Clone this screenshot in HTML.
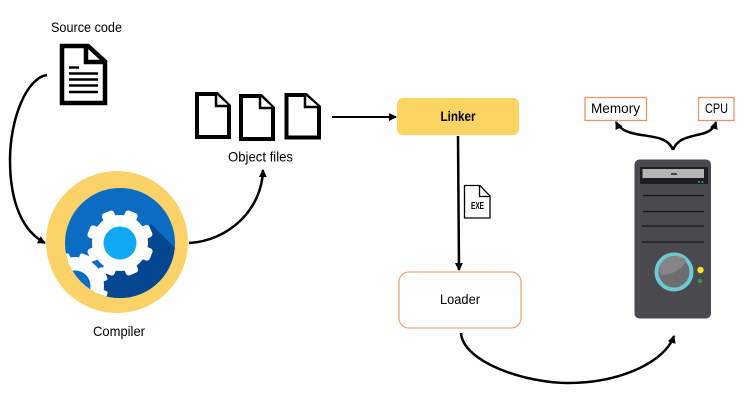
<!DOCTYPE html>
<html>
<head>
<meta charset="utf-8">
<style>
html,body{margin:0;padding:0;background:#fff}
svg{display:block}
text{font-family:"Liberation Sans",sans-serif;fill:#000;text-anchor:middle}
</style>
</head>
<body>
<svg width="745" height="402" viewBox="0 0 745 402" xmlns="http://www.w3.org/2000/svg">
<defs>
<clipPath id="c"><circle cx="120" cy="243" r="55"/></clipPath>
<marker id="a" markerWidth="10" markerHeight="10" refX="7" refY="4" orient="auto" markerUnits="userSpaceOnUse"><path d="M0,0 L8,4 L0,8 Z" fill="#000"/></marker>
</defs>

<!-- Source code -->
<text x="86.500" y="32" font-size="14" textLength="71" lengthAdjust="spacingAndGlyphs">Source code</text>
<path d="M62,46 H88 L105,61.500 V103 H62 Z" fill="#fff" stroke="#000" stroke-width="4.500"/>
<path d="M86,46 V62 H105" fill="none" stroke="#000" stroke-width="4.500"/>
<path d="M69,67.500 H79 M69,73.500 H98 M69,79.500 H98 M69,85.500 H98 M69,92 H98" stroke="#000" stroke-width="2.500"/>

<!-- Arrow source -> compiler -->
<path d="M47,75 C26,78 10,120 10,160 C10,205 24,232 45,243" fill="none" stroke="#000" stroke-width="2.500" marker-end="url(#a)"/>

<!-- Compiler -->
<circle cx="117" cy="242" r="71" fill="#FBD267"/>
<circle cx="120" cy="243" r="55" fill="#0B6CC4"/>
<g clip-path="url(#c)">
<path d="M151,224 L178,251 V300 H98 L103,270 Z" fill="#04468F"/>
<g fill="#fff" transform="translate(75 286)">
<circle r="29"/>
<rect x="-7" y="-33" width="14" height="66" rx="2" transform="rotate(22)"/>
<rect x="-7" y="-33" width="14" height="66" rx="2" transform="rotate(67)"/>
<rect x="-7" y="-33" width="14" height="66" rx="2" transform="rotate(112)"/>
<rect x="-7" y="-33" width="14" height="66" rx="2" transform="rotate(157)"/>
</g>
<circle cx="75" cy="286" r="15.500" fill="#0B6CC4"/>
</g>
<g fill="#fff" transform="translate(120 243)">
<circle r="28"/>
<rect x="-6.500" y="-33.500" width="13" height="67" rx="3" transform="rotate(22)"/>
<rect x="-6.500" y="-33.500" width="13" height="67" rx="3" transform="rotate(67)"/>
<rect x="-6.500" y="-33.500" width="13" height="67" rx="3" transform="rotate(112)"/>
<rect x="-6.500" y="-33.500" width="13" height="67" rx="3" transform="rotate(157)"/>
</g>
<circle cx="120" cy="243" r="16.500" fill="#0EA9F2"/>
<text x="119" y="336" font-size="14" textLength="52" lengthAdjust="spacingAndGlyphs">Compiler</text>

<!-- Arrow compiler -> object files -->
<path d="M189,243 C228,241 262,210 263,170" fill="none" stroke="#000" stroke-width="2.500" marker-end="url(#a)"/>

<!-- Object files -->
<g fill="#fff" stroke="#000" stroke-width="4">
<path d="M197,94 H217 L229,106 V137 H197 Z"/>
<path d="M216,94 V106 H229" stroke-width="2.500"/>
<path d="M241,96 H261 L273,108 V139 H241 Z"/>
<path d="M260,96 V108 H273" stroke-width="2.500"/>
<path d="M286.500,95 H306 L319,107 V137.500 H286.500 Z"/>
<path d="M305,95 V107 H319" stroke-width="2.500"/>
</g>
<text x="260.500" y="161.500" font-size="14" textLength="65" lengthAdjust="spacingAndGlyphs">Object files</text>

<!-- Arrow -> Linker -->
<path d="M332,117 H396" fill="none" stroke="#000" stroke-width="2" marker-end="url(#a)"/>

<!-- Linker -->
<rect x="397" y="98" width="122" height="37" rx="6" fill="#FCD462"/>
<text x="458" y="121" font-size="14" font-weight="bold" textLength="35" lengthAdjust="spacingAndGlyphs">Linker</text>

<!-- Linker -> Loader -->
<path d="M458,136 L459,270" fill="none" stroke="#000" stroke-width="2.500" marker-end="url(#a)"/>

<!-- EXE -->
<path d="M464.500,185.500 H480 L490,196 V218 H464.500 Z" fill="#fff" stroke="#000" stroke-width="1.300"/>
<path d="M479.500,185.500 V196.500 H490" fill="none" stroke="#000" stroke-width="1.300"/>
<text x="477.500" y="209" font-size="10" font-weight="bold" textLength="13" lengthAdjust="spacingAndGlyphs">EXE</text>

<!-- Loader -->
<rect x="399" y="272" width="122" height="56" rx="10" fill="#fff" stroke="#EBA677" stroke-width="1.300"/>
<text x="460" y="304" font-size="14" textLength="40" lengthAdjust="spacingAndGlyphs">Loader</text>

<!-- Loader -> Computer -->
<path d="M461,333 C463,362 525,383 568,383 C620,383 665,362 674,336" fill="none" stroke="#000" stroke-width="2.500" marker-end="url(#a)"/>

<!-- Memory / CPU -->
<rect x="585" y="97.500" width="61.500" height="23" fill="#fff" stroke="#E3966A" stroke-width="1.300"/>
<text x="615.500" y="113" font-size="14" textLength="49" lengthAdjust="spacingAndGlyphs">Memory</text>
<rect x="698.500" y="97.500" width="35.500" height="23" fill="#fff" stroke="#E3966A" stroke-width="1.300"/>
<text x="716.500" y="113" font-size="14" textLength="23" lengthAdjust="spacingAndGlyphs">CPU</text>

<!-- Branch arrows -->
<path d="M673,150 C668,136 650,137 636,134 C625,132 619,128 616,122" fill="none" stroke="#000" stroke-width="2.500" marker-end="url(#a)"/>
<path d="M673,150 C677,138 690,137 701,134 C710,132 714,128 716,122" fill="none" stroke="#000" stroke-width="2.500" marker-end="url(#a)"/>

<!-- Tower -->
<rect x="634.500" y="159.500" width="76.500" height="159" rx="5" fill="#4A4A4E"/>
<rect x="640" y="167" width="68" height="17" fill="#1E1E20"/>
<rect x="642.500" y="169" width="61.500" height="9" fill="#B4B4B4"/>
<rect x="671" y="173" width="6" height="2" fill="#444"/>
<circle cx="699" cy="182" r="0.900" fill="#3c9"/>
<circle cx="702.500" cy="182" r="0.900" fill="#3c9"/>
<path d="M643,195.500 H704 M643,211.500 H704 M642,226 H704 M642,242 H704" stroke="#17171a" stroke-width="1.200"/>
<circle cx="674" cy="272" r="17.500" fill="#6E6E70" stroke="#6CC9D6" stroke-width="4"/>
<path d="M661,275 C672,275 683,269 686,260 C679,254 668,254 662,262 C659,267 659,271 661,275 Z" fill="#858587"/>
<circle cx="700.500" cy="270" r="3.200" fill="#EEE61E"/>
<circle cx="700" cy="281" r="2" fill="#1FA84A"/>
</svg>
</body>
</html>
